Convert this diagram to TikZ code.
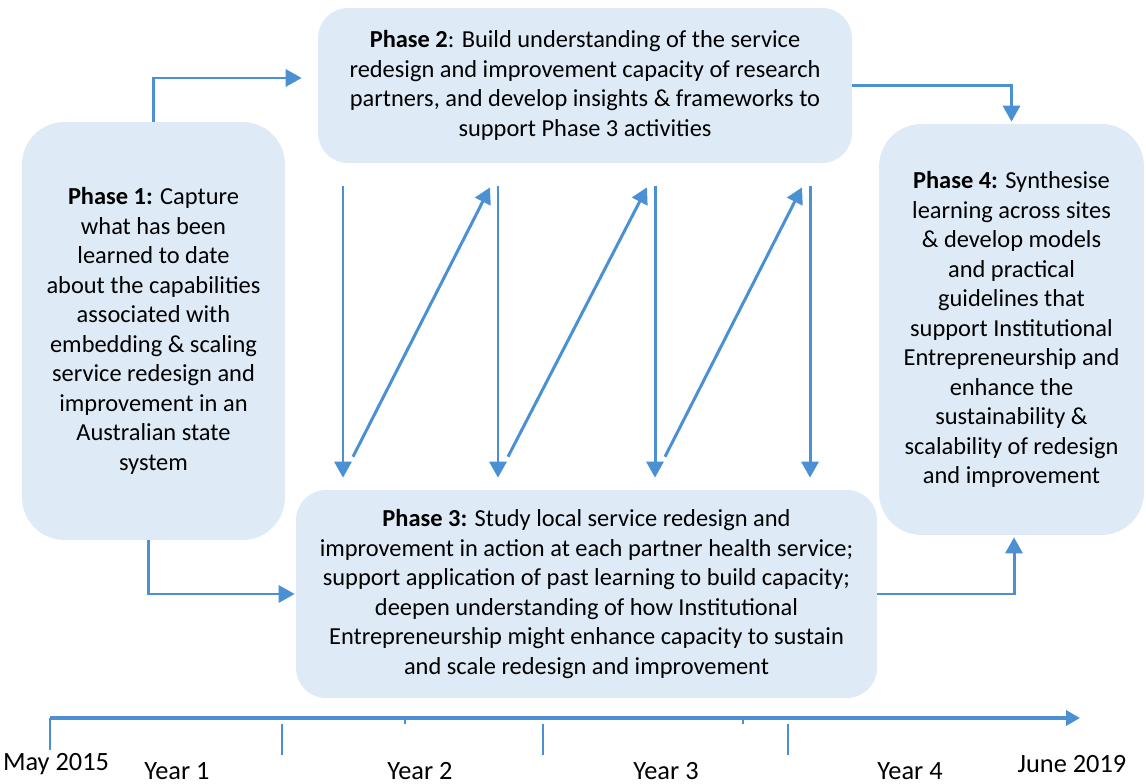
\documentclass[tikz,border=0pt]{standalone}
\usepackage{fontspec}
\setmainfont{Carlito}
\usetikzlibrary{arrows.meta,positioning,calc}
\definecolor{phasefill}{RGB}{222,234,246}
\definecolor{flowblue}{RGB}{74,144,210}
\newcommand \mytick[2]
{
\coordinate (#1) at (#2,718);
\draw[tickline] ([yshift=-0.12cm]#1) -- ([yshift=-0.74cm]#1);
}
\tikzset{
  phase/.style={fill=phasefill, align=center, inner sep=0pt,
    font=\fontsize{13.9}{16.8}\selectfont},
  flow/.style={draw=flowblue, line width=1.7pt,
    -{Triangle[length=0.32cm,width=0.34cm]}},
  tickline/.style={draw=flowblue, line width=1.1pt},
  yearlabel/.style={font=\fontsize{15}{18}\selectfont, inner sep=0pt}
}
\begin{document}
\begin{tikzpicture}[x=0.02cm, y=-0.02cm]
\useasboundingbox (0,0) rectangle (1146,784);
% the four phases
\node[phase, rounded corners=0.85cm, minimum width=5.26cm, minimum height=8.36cm] (p1) at (153.5,331)
{\textbf{Phase 1:} Capture\\ what has been\\ learned to date\\ about the capabilities\\ associated with\\
embedding \& scaling\\ service redesign and\\ improvement in an\\ Australian state\\ system};
\node[phase, rounded corners=0.6cm, minimum width=10.68cm, minimum height=3.1cm] (p2) at (585,85.5)
{\textbf{Phase 2}: Build understanding of the service\\ redesign and improvement capacity of research\\
partners, and develop insights \& frameworks to\\ support Phase 3 activities};
\node[phase, rounded corners=0.6cm, minimum width=11.62cm, minimum height=4.16cm] (p3) at (586.5,594)
{\textbf{Phase 3:} Study local service redesign and\\ improvement in action at each partner health service;\\
support application of past learning to build capacity;\\ deepen understanding of how Institutional\\
Entrepreneurship might enhance capacity to sustain\\ and scale redesign and improvement};
\node[phase, rounded corners=0.85cm, minimum width=5.3cm, minimum height=8.22cm] (p4) at (1011.5,329.5)
{\textbf{Phase 4:} Synthesise\\ learning across sites\\ \& develop models\\ and practical\\ guidelines that\\
support Institutional\\ Entrepreneurship and\\ enhance the\\ sustainability \&\\ scalability of redesign\\ and improvement};
% links between phases
\draw[flow, shorten >=0.32cm] (p1.north) |- ([yshift=0.15cm]p2.west);
\draw[flow, shorten >=0.04cm] (p2.east) -| (p4.north);
\draw[flow, shorten >=0.02cm] ([xshift=-0.1cm]p1.south) |- (p3.west);
\draw[flow, shorten >=0.04cm] (p3.east) -| ([xshift=0.05cm]p4.south);
% iterations between phase 2 and phase 3
\foreach \x [count=\i] in {343,498,655,810}
{
\coordinate (d\i) at (\x,0);
\draw[flow, shorten <=0.46cm, shorten >=0.24cm] (p2.south -| d\i) -- (p3.north -| d\i);
}
\foreach \i/\j in {1/2,2/3,3/4}
{
\draw[flow] ($(p3.north -| d\i)+(10,-33)$) -- ($(p2.south -| d\j)+(-8,24)$);
}
% timeline
\coordinate (t0) at (50,718);
\coordinate (t1) at (1080,718);
\draw[draw=flowblue, line width=2pt, -{Triangle[length=0.28cm,width=0.3cm]}] (t0) -- (t1);
\draw[tickline] (t0) -- ++(0,32);
\mytick{y1}{282}
\mytick{y2}{543}
\mytick{y3}{788}
\draw[draw=flowblue, line width=0.6pt] (405,718) -- (405,724) (743,718) -- (743,724);
\node[yearlabel] (start) at (56,764) {May 2015};
\node[yearlabel] (end) at (1072,764) {June 2019};
\node[yearlabel] at (177,771) {Year 1};
\node[yearlabel] at (420,771) {Year 2};
\node[yearlabel] at (666,771) {Year 3};
\node[yearlabel] at (910,771) {Year 4};
\end{tikzpicture}
\end{document}
